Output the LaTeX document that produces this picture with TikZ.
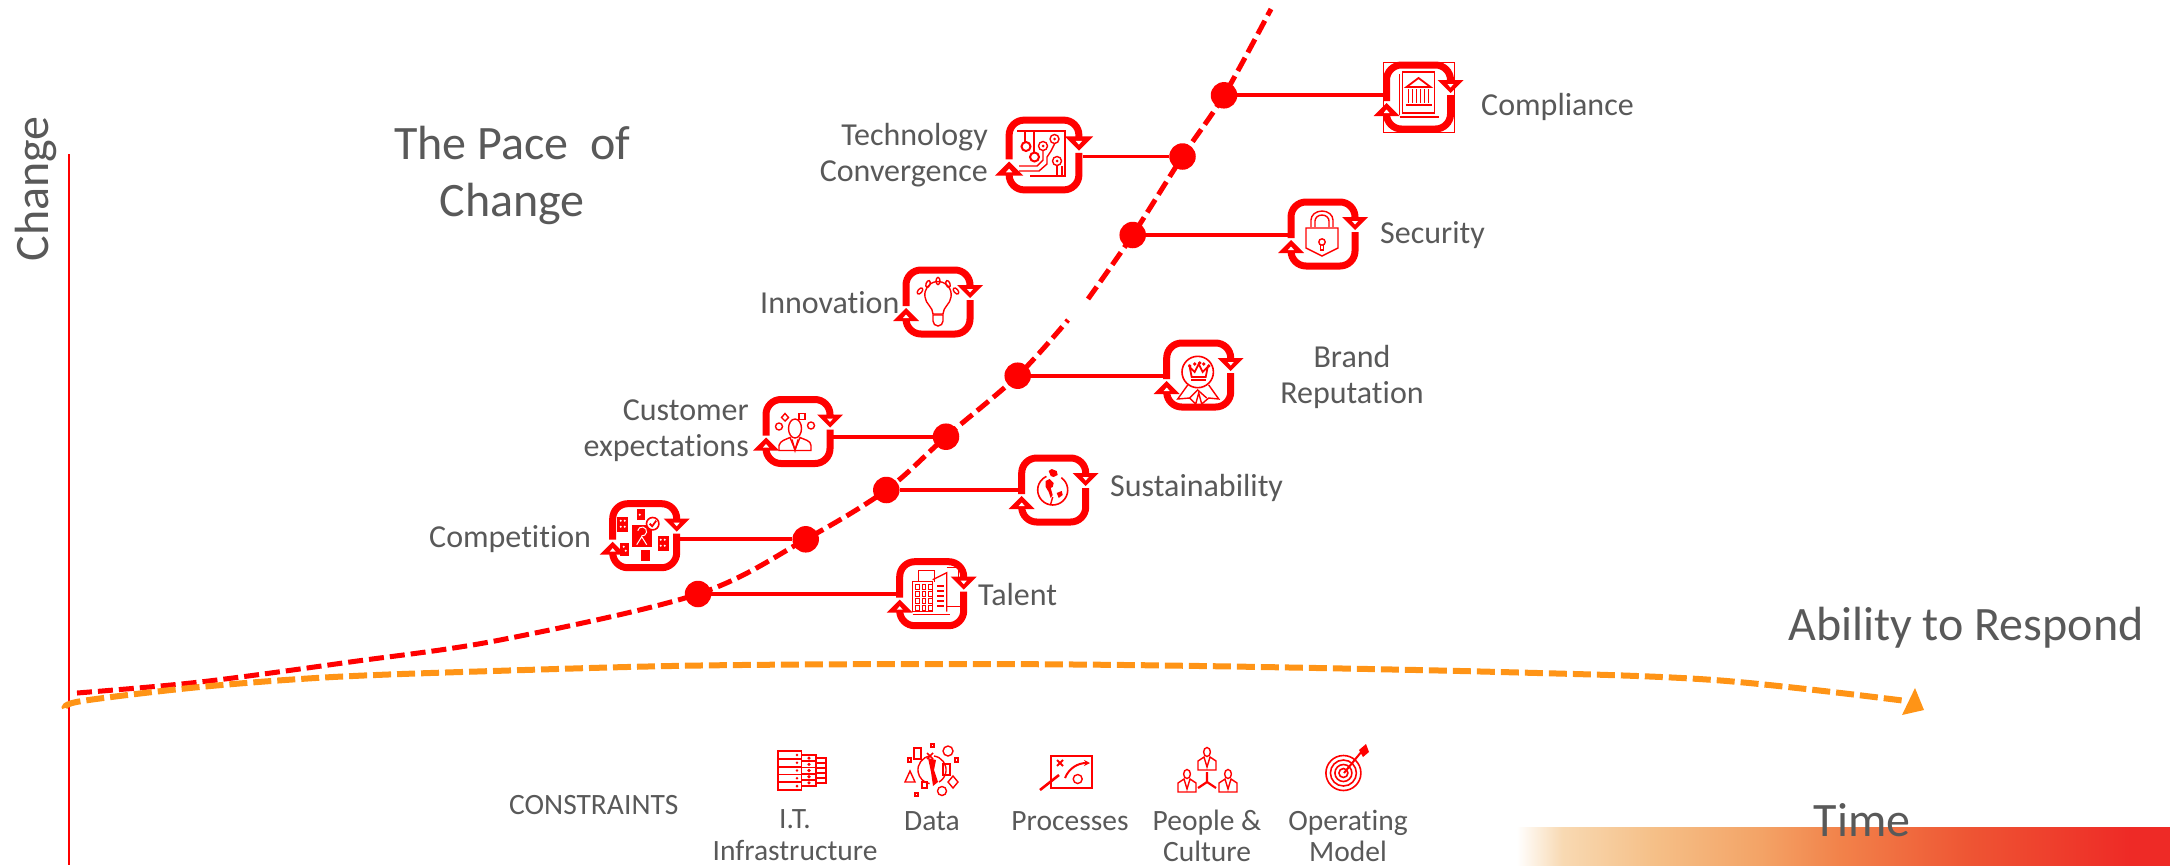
\documentclass[tikz,border=0pt]{standalone}
\usepackage{fontspec}
\usetikzlibrary{arrows.meta}
\setmainfont[Ligatures=NoCommon]{Carlito}
\definecolor{txtgrey}{HTML}{595959}
\definecolor{orangeln}{HTML}{FF9416}
\definecolor{redln}{HTML}{FF0000}
\definecolor{bara}{HTML}{F8D9B2}
\definecolor{barb}{HTML}{F5BF87}
\definecolor{barc}{HTML}{F3A366}
\definecolor{bard}{HTML}{F2824A}
\definecolor{bare}{HTML}{EE5433}
\definecolor{barf}{HTML}{EE2A26}
\pgfdeclarehorizontalshading{barshade}{100bp}{
 color(0bp)=(white); color(25bp)=(white);
 color(25.5bp)=(white);
 color(29bp)=(bara);
 color(36bp)=(barb);
 color(44bp)=(barc);
 color(50bp)=(bard);
 color(60bp)=(bare);
 color(72bp)=(barf);
 color(75bp)=(barf);
 color(100bp)=(barf)}
\tikzset{
 lbl/.style={text=txtgrey,inner sep=0pt,font=\fontsize{32}{36}\selectfont},
 lblbig/.style={text=txtgrey,inner sep=0pt,font=\fontsize{48}{58}\selectfont},
 lblsm/.style={text=txtgrey,inner sep=0pt,font=\fontsize{29.5}{31.5}\selectfont},
 dotn/.style={circle,fill=redln,draw=none,minimum size=26.5pt,inner sep=0pt},
 iconbox/.style={minimum size=70pt,inner sep=0pt},
 conn/.style={draw=redln,line width=3.8pt},
 redcurve/.style={draw=redln,line width=5pt,dash pattern=on 15pt off 6pt},
 orangecurve/.style={draw=orangeln,line width=6pt,dash pattern=on 18pt off 6pt},
 gl/.style={draw=redln,line width=1.4pt,fill=none},
 pics/cyclebox/.style={code={
  \draw[redln,line width=7pt,rounded corners=15pt] (-32,4) -- (-32,-32) -- (32,-32) -- (32,-16);
  \draw[redln,line width=7pt,rounded corners=15pt] (32,-2) -- (32,32) -- (-32,32) -- (-32,17);
  \fill[redln] (19,-17) -- (45,-17) -- (32,-4) -- cycle;
  \fill[white] (29,-13) -- (35,-13) -- (32,-9.5) -- cycle;
  \fill[redln] (-45,19) -- (-19,19) -- (-32,6) -- cycle;
  \fill[white] (-35,16) -- (-29,16) -- (-32,12.5) -- cycle;
 }},
 pics/gtech/.style={code={
  \draw[gl] (-27,-24) -- (21,-24) -- (21,21) -- (-14,21);
  \draw[gl] (-19,-24) -- (-19,-13); \draw[gl] (-10,-24) -- (-10,-3);
  \draw[gl,line width=2pt] (-18,-8.5) circle (4.5);
  \draw[gl,line width=2pt] (-9.5,2) circle (4.5);
  \draw[gl] (-1,-9) circle (4.5); \fill[redln] (-1,-9) circle (1.5);
  \draw[gl] (10.5,-16) circle (4.5); \fill[redln] (10.5,-16) circle (1.5);
  \draw[gl] (13,6) circle (4.5); \fill[redln] (13,6) circle (1.5);
  \draw[gl] (-1,-4) -- (-1,5) -- (-7,11) -- (-25,11);
  \draw[gl] (10.5,-11) -- (7,-4) -- (3,2) -- (3,9) -- (-5,16) -- (-25,16);
  \draw[gl] (13,11) -- (13,21);
  \draw[gl] (18,11) -- (18,21);
 }},
 pics/gbank/.style={code={
  \draw[redln,line width=1pt] (-35.5,-35) rectangle (35.5,35);
  \draw[gl] (-19,-23) -- (-19,18);
  \draw[gl] (-16,-25) -- (16,-25) -- (16,16) -- (-16,16) -- cycle;
  \draw[gl] (-19,20) -- (20,20);
  \draw[gl,line width=1.8pt] (-12,-10) -- (0,-19) -- (12,-10) -- cycle;
  \foreach \xx in {-10,-6,-2,2,6,10} {\draw[gl] (\xx,-8) -- (\xx,6);}
  \draw[gl,line width=2pt] (-13,8) -- (13,8);
 }},
 pics/glock/.style={code={
  \draw[gl] (-12,-7) -- (-12,-14) arc[start angle=180,end angle=360,x radius=11,y radius=9] -- (10,-7);
  \draw[gl] (-8,-7) -- (-8,-13) arc[start angle=180,end angle=360,x radius=7,y radius=6] -- (6,-7);
  \draw[gl] (-17,-6) -- (15,-6) -- (15,14) -- (-1,22) -- (-17,14) -- cycle;
  \draw[gl] (-1,8) circle (3.2);
  \draw[gl] (-2.5,11) -- (-2.5,16) -- (0.5,16) -- (0.5,11);
 }},
 pics/gbulb/.style={code={
  \draw[gl] (-5,12) .. controls (-5,5) and (-12.5,2) .. (-13,-5) arc[start angle=170,end angle=370,radius=13.2] .. controls (12.5,2) and (5,5) .. (5,12) -- cycle;
  \draw[gl] (-5,13) -- (5,13) -- (5,19) arc[start angle=0,end angle=180,radius=5] -- cycle;
  \foreach \xx/\yy/\rr in {-18/-11/50,-10/-18/70,0/-21/90,10/-18/110,18/-11/130}
   {\draw[gl,rotate around={\rr:(\xx,\yy)}] (\xx,\yy) ellipse (3.6 and 2);}
 }},
 pics/gperson/.style={code={
  \draw[gl] (-3,-3) ellipse (6.5 and 9.5);
  \draw[gl] (-19,19) -- (-19,14) .. controls (-18,9) and (-12,8) .. (-8,6) -- (-3,18) -- (2,6) .. controls (6,8) and (13,9) .. (13,14) -- (13,19) -- cycle;
  \draw[gl] (-6,8) -- (-3,19) -- (0,8);
  \draw[gl] (-19,-5) circle (3.5);
  \draw[gl] (13,-6) circle (3.5);
  \draw[gl] (-13,-18) -- (-9.5,-14) -- (-13,-10.5) -- (-16.5,-14) -- cycle;
  \draw[gl] (1,-18) rectangle (7,-12);
 }},
 pics/gcomp/.style={code={
  \fill[redln] (-27.5,-19) rectangle (-16.5,-4);
  \fill[redln] (-8,-27) rectangle (0,-16);
  \fill[redln] (-24.5,7) rectangle (-15.5,20);
  \fill[redln] (-3.5,14) rectangle (5,25);
  \fill[redln] (13,0) rectangle (24,15);
  \fill[redln] (-13,-11) rectangle (7,11);
  \foreach \xx/\yy in {-24/-15,-20/-15,-24/-9,-20/-9,-21/11,-19/15,16/4,20/4,16/10,20/10,-5/-21}
    {\fill[white] (\xx,\yy) circle (1.1);}
  \draw[white,line width=1pt] (-7,-5) arc[start angle=190,end angle=460,radius=4.5];
  \draw[white,line width=1pt] (-8,9) -- (-3,1) -- (2,9);
  \draw[redln,fill=white,line width=1.6pt] (8,-12) circle (6.2);
  \draw[redln,line width=1.8pt] (5,-12) -- (7.5,-9.5) -- (11.5,-15);
 }},
 pics/gtalent/.style={code={
  \draw[gl] (-13,-13) -- (-13,-23) -- (3,-23) -- (3,-12);
  \draw[gl] (-19,-12) rectangle (1,18);
  \foreach \yy in {-9,-2,5,12} {\foreach \xx in {-16,-9.5,-3}
    {\draw[redln,line width=1.2pt] (\xx,\yy) rectangle (\xx+3.6,\yy+4.6);}}
  \draw[gl] (1,-14) -- (15,-21) -- (15,18);
  \foreach \yy in {-9,-4,1,6,11} {\fill[redln] (5,\yy) rectangle (12.5,\yy+2.2);}
  \draw[gl] (-19,21) -- (18,21);
  \draw[gl] (15,13) -- (28,13);
  \draw[gl] (15,-26) -- (27,-26) -- (27,-15);
 }},
 pics/gbrand/.style={code={
  \draw[gl,line width=1.6pt] (-1,-3) circle (15.7);
  \draw[gl,line width=1.8pt] (-9,-8) -- (-7,2) -- (7,2) -- (9,-8) -- (4,-3) -- (0,-11) -- (-4,-3) -- cycle;
  \foreach \xx/\yy in {-9/-9,-4/-11,1/-12,5/-11,10/-9} {\fill[redln] (\xx,\yy) circle (1.8);}
  \fill[redln] (-8,3.5) rectangle (7,5.5);
  \draw[gl] (-11,10) -- (-21,24) -- (-9,23) -- (-3,29) -- (0,18) -- (3,29) -- (10,23) -- (20,24) -- (10,10);
  \draw[gl] (-9,23) -- (-1,15) -- (8,23);
 }},
 pics/gearth/.style={code={
  \draw[gl,line width=1.6pt] (7.6,-12.3) arc[start angle=-55,end angle=245,radius=15];
  \fill[redln] (-5,-19) -- (-2,-21) -- (3,-19) -- (4,-15) -- (0,-13) -- (-3,-14) -- cycle;
  \fill[redln] (-8,-9) -- (-4,-11) -- (0,-7) -- (-1,-3) -- (-3,-2) -- (-1,5) -- (-3,8) -- (-5,2) -- (-8,-3) -- cycle;
  \fill[redln] (3,3) -- (8,1) -- (9,5) -- (5,8) -- cycle;
  \draw[gl] (-3,14) -- (-1,7);
 }},
}
\begin{document}
\begin{tikzpicture}[x=1pt,y=-1pt]
\useasboundingbox (0,0) rectangle (2170,865);
% gradient bar
\fill[shading=barshade] (1510,827) rectangle (2170,865);
% axis
\coordinate (axtop) at (69,154);
\coordinate (axbot) at (69,865);
\draw[redln,line width=2.8pt] (axtop) -- (axbot);
% dots
\node[dotn] (d1) at (1224,95.3) {};
\node[dotn] (d2) at (1182.5,156.5) {};
\node[dotn] (d3) at (1132.7,235) {};
\node[dotn] (d4) at (1017.7,375.7) {};
\node[dotn] (d5) at (946,436.7) {};
\node[dotn] (d6) at (886.3,490) {};
\node[dotn] (d7) at (805.7,539.3) {};
\node[dotn] (d8) at (698,594) {};
% curves
\draw[redcurve] plot[smooth,tension=0.55] coordinates {(77,693) (200,682) (350,662) (500,640) (698,594) (805.7,539.3) (886.3,490) (946,436.7) (1017.7,375.7) (1068,320)};
\draw[redcurve] plot[smooth,tension=0.55] coordinates {(1088,299) (1132.7,235) (1182.5,156.5) (1224,95.3) (1271,9)};
\draw[orangecurve] plot[smooth,tension=0.55] coordinates {(65,708) (82,701) (200,687) (333,677) (493,671) (700,665.5) (969,664) (1200,666) (1500,672) (1714,680) (1904,700.7)};
\fill[orangeln] (1915,688) -- (1902,715) -- (1924,710) -- cycle;
% icon anchors
\node[iconbox] (icomp) at (1418.5,97) {};
\node[iconbox,minimum size=78pt] (itech) at (1044,155) {};
\node[iconbox] (isec) at (1323,234) {};
\node[iconbox] (iinno) at (938,302) {};
\node[iconbox] (icust) at (798,431.5) {};
\node[iconbox] (icmp) at (644.7,535.7) {};
\node[iconbox] (ital) at (931.7,593.7) {};
\node[iconbox] (ibrand) at (1198.7,375) {};
\node[iconbox] (isus) at (1053.7,490) {};
% connectors
\draw[conn] (d1) -- (d1 -| icomp.west);
\draw[conn] (d2) -- (d2 -| itech.east);
\draw[conn] (d3) -- (d3 -| isec.west);
\draw[conn] (d4) -- (d4 -| ibrand.west);
\draw[conn] (d5) -- (d5 -| icust.east);
\draw[conn] (d6) -- (d6 -| isus.west);
\draw[conn] (d7) -- (d7 -| icmp.east);
\draw[conn] (d8) -- (d8 -| ital.west);
% icons
\foreach \ic in {icomp,isec,iinno,icust,icmp,ital,ibrand,isus} {\pic at (\ic) {cyclebox};}
\pic[scale=1.09] at (itech) {cyclebox};
\pic at (icomp) {gbank};
\pic at (itech) {gtech};
\pic at (isec) {glock};
\pic at (iinno) {gbulb};
\pic at (icust) {gperson};
\pic at (icmp) {gcomp};
\pic at (ital) {gtalent};
\pic at (ibrand) {gbrand};
\pic at (isus) {gearth};
% bottom icons
\foreach \xa/\xb/\ya/\yb/\n in {815.6/826/758/783/5,801.5/815.6/755/786/5,777.6/801.5/751/790/5}{
  \draw[gl,line width=1.8pt] (\xa,\ya) rectangle (\xb,\yb);
  \foreach \k in {1,...,4} {\draw[gl,line width=1.8pt] (\xa,{\ya+(\yb-\ya)*\k/5}) -- (\xb,{\ya+(\yb-\ya)*\k/5});}
}
\foreach \k in {1,...,5}{\fill[redln] (797,{751+(\k-.5)*7.8}) circle (1.4);\fill[redln] (809,{755+(\k-.5)*6.2}) circle (1.8);}
% data icon
\begin{scope}[shift={(932,770)}]
 \draw[gl] (-2,-14) arc[start angle=-98,end angle=-260,radius=14];
 \draw[gl] (2,-14) arc[start angle=-82,end angle=60,radius=14];
 \fill[redln] (-4,-12) -- (4,-10) -- (2,0) -- (6,12) -- (1,16) -- (-1,2) -- cycle;
 \draw[gl] (-18,-22) rectangle (-11,-11);
 \draw[gl] (16,-19) circle (5);
 \draw[gl] (11,-6) rectangle (18,5);
 \draw[gl] (-22,1) -- (-17,12) -- (-27,12) -- cycle;
 \draw[gl] (21,6) -- (26,12) -- (21,18) -- (16,12) -- cycle;
 \draw[gl] (10,21) circle (4.5);
 \draw[gl] (-10,12) rectangle (-5,18);
 \draw[gl] (-24,-12) rectangle (-21,-8);
 \draw[gl] (23,-12) rectangle (26,-8);
 \draw[gl] (-1,-26) rectangle (2,-23);
 \draw[gl] (-17,23) rectangle (-14,26);
 \draw[redln,line width=1.6pt] (-5,-17) -- (1,-11) (1,-17) -- (-5,-11);
\end{scope}
% process icon
\draw[gl,line width=1.6pt] (1051,756) rectangle (1092,788);
\draw[redln,line width=2.6pt] (1040,790) -- (1059,775);
\draw[redln,line width=2pt] (1057,760) -- (1063,766) (1063,760) -- (1057,766);
\draw[redln,line width=2pt,-{Stealth[length=6pt,width=6pt]}] (1065,778) .. controls (1069,768) and (1078,763) .. (1090,763);
\draw[gl] (1077.7,779) circle (4.5);
% people icon
\foreach \xx/\yy in {1207/759,1187/781,1228/781}{
 \draw[gl] (\xx,\yy-7) ellipse (3.4 and 4.5);
 \draw[gl] (\xx-9,\yy+11) -- (\xx-9,\yy+2) -- (\xx-3,\yy-2) -- (\xx,\yy+8) -- (\xx+3,\yy-2) -- (\xx+9,\yy+2) -- (\xx+9,\yy+11) -- cycle;
}
\draw[redln,line width=2.2pt] (1207,772) -- (1207,782) -- (1198,788) (1207,782) -- (1216,788);
% target icon
\foreach \rr in {17.5,13,8.5,4.5}{\draw[gl,line width=1.6pt] (1343.4,773) circle (\rr);}
\draw[redln,line width=2pt] (1344,773) -- (1362,751);
\fill[redln] (1359,750) -- (1366,744) -- (1369,752) -- (1363,757) -- cycle;
% labels
\node[lblbig,anchor=base] at (512,159) {The Pace~ of};
\node[lblbig,anchor=base] at (512,216) {Change};
\node[lblbig,anchor=base,rotate=90] at (48,189) {Change};
\node[lbl,anchor=east,align=right] at (988,155.5) {Technology\\Convergence};
\node[lbl,anchor=base west] at (1481,115.5) {Compliance};
\node[lbl,anchor=base west] at (1380,243) {Security};
\node[lbl,anchor=base west] at (760,313) {Innovation};
\node[lbl,anchor=east,align=right] at (749,431) {Customer\\expectations};
\node[lbl,align=center] at (1352,376.5) {Brand\\Reputation};
\node[lbl,anchor=base west] at (1110,496.5) {Sustainability};
\node[lbl,anchor=base west] at (429,547) {Competition};
\node[lbl,anchor=base west] at (978,605) {Talent};
\node[lblbig,anchor=base west] at (1788,640) {Ability to Respond};
\node[lblbig,anchor=base] at (1862,836.7) {Time};
\node[lblsm,anchor=base west] at (509,814) {CONSTRAINTS};
\node[lblsm,anchor=north,align=center] at (795,809.5) {I.T.\\Infrastructure};
\node[lblsm,anchor=base] at (932,830.5) {Data};
\node[lblsm,anchor=base] at (1070,830.5) {Processes};
\node[lblsm,anchor=north,align=center] at (1207,809.5) {People \&\\Culture};
\node[lblsm,anchor=north,align=center] at (1348,809.5) {Operating\\Model};
\end{tikzpicture}
\end{document}
